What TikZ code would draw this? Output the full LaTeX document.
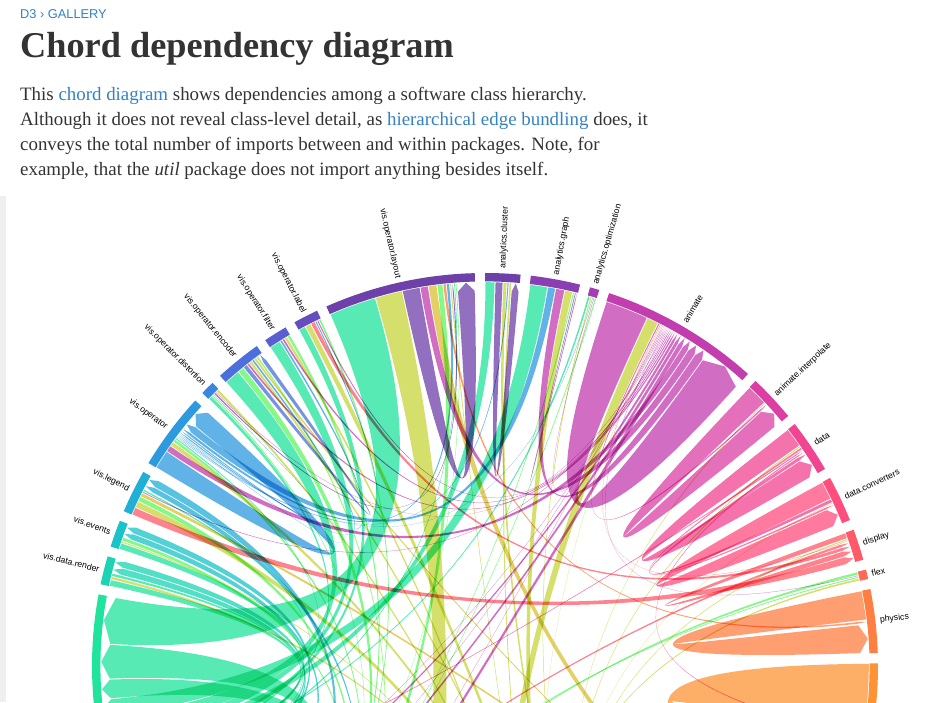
\documentclass[tikz,border=0pt]{standalone}
\usepackage{fontspec}
\setmainfont{Liberation Serif}
\newfontfamily\labfont{Liberation Sans}
\definecolor{txt}{RGB}{51,51,51}
\definecolor{lnk}{RGB}{52,130,196}
\definecolor{stripgray}{RGB}{239,239,239}
% d3.interpolateRainbow
\newcommand\mkcol[2]{%
  \pgfmathsetmacro\mcS{abs(#2-0.5)}%
  \pgfmathsetmacro\mcH{360*#2+20}%
  \pgfmathsetmacro\mcL{0.8-0.9*\mcS}%
  \pgfmathsetmacro\mcA{(1.5-1.5*\mcS)*\mcL*(1-\mcL)}%
  \pgfmathtruncatemacro\mcR{max(0,min(255,round(255*(\mcL+\mcA*(-0.14861*cos(\mcH)+1.78277*sin(\mcH))))))}%
  \pgfmathtruncatemacro\mcG{max(0,min(255,round(255*(\mcL+\mcA*(-0.29227*cos(\mcH)-0.90649*sin(\mcH))))))}%
  \pgfmathtruncatemacro\mcB{max(0,min(255,round(255*(\mcL+\mcA*1.97294*cos(\mcH)))))}%
  \edef\mcTmp{\noexpand\definecolor{#1}{RGB}{\mcR,\mcG,\mcB}}\mcTmp}
\mkcol{cClu}{0}
\mkcol{cGra}{0.034483}
\mkcol{cOpt}{0.068966}
\mkcol{cAni}{0.103448}
\mkcol{cInt}{0.137931}
\mkcol{cDat}{0.172414}
\mkcol{cCon}{0.206897}
\mkcol{cDis}{0.241379}
\mkcol{cFle}{0.275862}
\mkcol{cPhy}{0.310345}
\mkcol{cQue}{0.344828}
\mkcol{cQme}{0.379310}
\mkcol{cSca}{0.413793}
\mkcol{cUti}{0.448276}
\mkcol{cHea}{0.482759}
\mkcol{cMat}{0.517241}
\mkcol{cPal}{0.551724}
\mkcol{cVis}{0.586207}
\mkcol{cAxi}{0.620690}
\mkcol{cCtl}{0.655172}
\mkcol{cVda}{0.689655}
\mkcol{cRen}{0.724138}
\mkcol{cEve}{0.758621}
\mkcol{cLeg}{0.793103}
\mkcol{cOpe}{0.827586}
\mkcol{cDst}{0.862069}
\mkcol{cEnc}{0.896552}
\mkcol{cFil}{0.931034}
\mkcol{cLab}{0.965517}
\mkcol{cLay}{0.999999}
% geometry (pixels): centre, ribbon radius, head length, ring radii, label radius
\def\cx{485}\def\cy{36}\def\rr{383.8}\def\hd{8.4}
\def\rin{384.6}\def\rout{393}\def\rlab{397.5}
% ribbon with arrow head (d3.ribbonArrow)
\newcommand\rib[5]{%
  \pgfmathsetmacro\sa{(#1)+0.075}\pgfmathsetmacro\sb{(#2)-0.075}%
  \pgfmathsetmacro\ta{(#3)+0.075}\pgfmathsetmacro\tb{(#4)-0.075}%
  \pgfmathsetmacro\tm{((#3)+(#4))/2}%
  \fill[ribbon=#5] ({\cx+\rr*sin(\sa)},{\cy+\rr*cos(\sa)})
    arc[start angle={90-(\sa)}, end angle={90-(\sb)}, radius=\rr]
    .. controls ({\cx+\rr/3*sin(\sb)},{\cy+\rr/3*cos(\sb)}) and ({\cx+(\rr-\hd)/3*sin(\ta)},{\cy+(\rr-\hd)/3*cos(\ta)}) ..
    ({\cx+(\rr-\hd)*sin(\ta)},{\cy+(\rr-\hd)*cos(\ta)})
    -- ({\cx+\rr*sin(\tm)},{\cy+\rr*cos(\tm)})
    -- ({\cx+(\rr-\hd)*sin(\tb)},{\cy+(\rr-\hd)*cos(\tb)})
    .. controls ({\cx+(\rr-\hd)/3*sin(\tb)},{\cy+(\rr-\hd)/3*cos(\tb)}) and ({\cx+\rr/3*sin(\sa)},{\cy+\rr/3*cos(\sa)}) ..
    cycle;}
% group arc
\newcommand\grp[3]{%
  \fill[#3] ({\cx+\rout*sin(#1)},{\cy+\rout*cos(#1)})
    arc[start angle={90-(#1)}, end angle={90-(#2)}, radius=\rout]
    -- ({\cx+\rin*sin(#2)},{\cy+\rin*cos(#2)})
    arc[start angle={90-(#2)}, end angle={90-(#1)}, radius=\rin] -- cycle;}
\newcommand\labR[3]{\node[lab,anchor=west,rotate={90-(#2)}] (#1) at ({\cx+\rlab*sin(#2)},{\cy+\rlab*cos(#2)}) {#3};}
\newcommand\labL[3]{\node[lab,anchor=east,rotate={270-(#2)}] (#1) at ({\cx+\rlab*sin(#2)},{\cy+\rlab*cos(#2)}) {#3};}
\tikzset{
  ribbon/.style={fill=#1, fill opacity=0.75, blend mode=multiply},
  lab/.style={font=\labfont\fontsize{8.7}{10}\selectfont, inner sep=0pt, text=black},
  bodytext/.style={anchor=base west, inner sep=0pt, text=txt, font=\fontsize{18.9}{25}\selectfont},
}
\newcommand\lk[1]{\textcolor{lnk}{#1}}
\begin{document}
\begin{tikzpicture}[x=1pt,y=1pt]
\useasboundingbox (0,0) rectangle (945,702);
\fill[white] (0,0) rectangle (945,702);
\fill[stripgray] (0,0) rectangle (6,506);
% header
\node[anchor=base west, inner sep=0pt, text=lnk, font=\labfont\fontsize{12.8}{15}\selectfont] (crumb) at (20,683) {D3 › GALLERY};
\node[anchor=base west, inner sep=0pt, text=txt, font=\bfseries\fontsize{36.3}{40}\selectfont] (title) at (20,644) {Chord dependency diagram};
\node[bodytext] (l1) at (20,601) {This \lk{chord diagram} shows dependencies among a software class hierarchy.};
\node[bodytext] (l2) at (20,576) {Although it does not reveal class-level detail, as \lk{hierarchical edge bundling} does, it};
\node[bodytext] (l3) at (20,551) {conveys the total number of imports between and within packages. Note, for};
\node[bodytext] (l4) at (20,526) {example, that the \textit{util} package does not import anything besides itself.};
\begin{scope}
\clip (6,0) rectangle (945,510);
% ---- groups
\grp{0}{5.2}{cClu}
\grp{6.7}{14.0}{cGra}
\grp{15.5}{16.9}{cOpt}
\grp{18.4}{42.0}{cAni}
\grp{43.5}{50.5}{cInt}
\grp{52.0}{59.9}{cDat}
\grp{61.4}{68.2}{cCon}
\grp{69.7}{74.3}{cDis}
\grp{75.8}{77.2}{cFle}
\grp{78.7}{88.1}{cPhy}
\grp{89.6}{112}{cQue}
\grp{113.5}{121}{cQme}
\grp{122.5}{134}{cSca}
\grp{135.5}{197}{cUti}
\grp{198.5}{201}{cHea}
\grp{202.5}{206}{cMat}
\grp{207.5}{210}{cPal}
\grp{211.5}{219}{cVis}
\grp{220.5}{227}{cAxi}
\grp{228.5}{238}{cCtl}
\grp{239.5}{280.5}{cVda}
\grp{-78.0}{-73.8}{cRen}
\grp{-72.3}{-68.3}{cEve}
\grp{-66.8}{-60.4}{cLeg}
\grp{-58.9}{-47.5}{cOpe}
\grp{-46.0}{-43.9}{cDst}
\grp{-42.4}{-35.5}{cEnc}
\grp{-34.0}{-30.5}{cFil}
\grp{-29.0}{-25.3}{cLab}
\grp{-23.8}{-1.5}{cLay}
% ---- chords: layout
\rib{-23.8}{-16.6}{-86.7}{-79.5}{cVda}
\rib{-16.6}{-12.45}{191}{195.15}{cUti}
\rib{-12.45}{-9.75}{-4.2}{-1.5}{cLay}
\rib{-9.75}{-8.5}{32.75}{34.0}{cAni}
\rib{-8.5}{-7.2}{128}{129.3}{cSca}
\rib{-7.2}{-6.3}{213.3}{214.2}{cVis}
\rib{-6.3}{-5.8}{83.2}{83.6}{cPhy}
\rib{-5.8}{-5.3}{-52.1}{-51.6}{cOpe}
\rib{-5.3}{-5.0}{168.9}{169.2}{cUti}
\rib{-4.7}{-4.45}{-109.3}{-108.8}{cVda}
\rib{-4.45}{-4.2}{218.6}{218.8}{cVis}
% cluster
\rib{0}{1.5}{-103.3}{-101.8}{cVda}
\rib{1.5}{2.7}{4.0}{5.2}{cClu}
\rib{2.7}{3.3}{160.3}{160.9}{cUti}
\rib{3.3}{3.6}{-53.3}{-53.1}{cOpe}
\rib{3.6}{4.0}{169.2}{169.6}{cUti}
% graph
\rib{6.7}{9.4}{-97.7}{-95}{cVda}
\rib{9.4}{10.6}{-51.6}{-50.4}{cOpe}
\rib{10.6}{12.0}{34.0}{35.4}{cAni}
\rib{12.0}{13.2}{165.7}{166.9}{cUti}
\rib{13.2}{13.5}{217.1}{217.4}{cVis}
\rib{13.5}{13.75}{13.75}{14.0}{cGra}
% optimization
\rib{15.5}{15.9}{-107.4}{-107.0}{cVda}
\rib{15.9}{16.2}{160}{160.3}{cUti}
\rib{16.2}{16.4}{-53.5}{-53.3}{cOpe}
\rib{16.4}{16.6}{28.5}{28.7}{cAni}
\rib{16.6}{16.9}{216.8}{217.1}{cVis}
% animate
\rib{18.4}{25.0}{35.4}{42.0}{cAni}
\rib{25.0}{26.8}{178}{179.8}{cUti}
\rib{26.8}{27.1}{46.95}{47.3}{cInt}
\rib{27.1}{27.3}{70.9}{71.1}{cDis}
\rib{27.3}{27.5}{167.2}{167.4}{cUti}
\rib{212.5}{212.7}{27.5}{27.7}{cAni}
\rib{226.8}{227.0}{27.7}{27.9}{cAni}
\rib{236.2}{236.4}{27.9}{28.1}{cAni}
% interpolate
\rib{43.5}{46.7}{47.3}{50.5}{cInt}
\rib{46.7}{46.95}{160.9}{161.15}{cUti}
% data
\rib{52.0}{55.0}{56.9}{59.9}{cDat}
\rib{55.0}{55.3}{161.3}{161.6}{cUti}
\rib{55.3}{55.7}{65.0}{65.4}{cCon}
% converters
\rib{61.4}{64.2}{65.4}{68.2}{cCon}
\rib{64.2}{64.8}{56.3}{56.9}{cDat}
\rib{64.8}{65.0}{161.6}{161.8}{cUti}
% display
\rib{69.7}{70.6}{72.2}{73.1}{cDis}
\rib{70.6}{70.9}{161.8}{162.1}{cUti}
% flex
\rib{75.8}{76.3}{216.3}{216.8}{cVis}
\rib{76.3}{76.5}{28.1}{28.3}{cAni}
\rib{76.5}{76.8}{218.4}{218.6}{cVis}
\rib{76.8}{77.2}{167.5}{167.9}{cUti}
% physics
\rib{78.7}{83.1}{83.7}{88.1}{cPhy}
% query
\rib{89.6}{100.0}{101.6}{112.0}{cQue}
\rib{100.0}{100.3}{56.0}{56.3}{cDat}
\rib{100.3}{101.0}{173}{173.7}{cUti}
% off-screen sources
\rib{229}{234.3}{-92.0}{-86.7}{cVda}
\rib{221}{224}{-95}{-92}{cVda}
\rib{211.5}{212.3}{30.95}{31.75}{cAni}
\rib{224.2}{224.8}{30.35}{30.95}{cAni}
\rib{234.5}{235.0}{29.85}{30.35}{cAni}
\rib{225.0}{225.5}{71.1}{71.6}{cDis}
\rib{245}{245.3}{55.7}{56.0}{cDat}
\rib{212.3}{212.5}{-62.5}{-61.6}{cLeg}
\rib{225.6}{226.8}{-61.6}{-60.4}{cLeg}
\rib{235.1}{236.1}{-70.4}{-69.4}{cEve}
\rib{246}{247.1}{-69.4}{-68.3}{cEve}
\rib{247.5}{248.6}{-76.0}{-74.9}{cRen}
\rib{249}{250.1}{-74.9}{-73.8}{cRen}
% distortion
\rib{-46.0}{-45.4}{-105.0}{-104.4}{cVda}
\rib{-45.4}{-45.1}{215.2}{215.5}{cVis}
\rib{-45.1}{-44.9}{-53.1}{-52.9}{cOpe}
\rib{-44.9}{-44.6}{-5.0}{-4.7}{cLay}
\rib{-44.6}{-44.4}{28.3}{28.5}{cAni}
\rib{-44.4}{-43.9}{167.9}{168.4}{cUti}
% encoder
\rib{-42.4}{-40.0}{-100.1}{-97.7}{cVda}
\rib{-40.0}{-39.0}{214.2}{215.2}{cVis}
\rib{-39.0}{-38.3}{-36.2}{-35.5}{cEnc}
\rib{-38.3}{-37.9}{29.5}{29.85}{cAni}
\rib{-37.9}{-37.4}{163.5}{164.0}{cUti}
\rib{-37.4}{-37.0}{-52.4}{-52.1}{cOpe}
\rib{-37.0}{-36.6}{129.9}{130.3}{cSca}
\rib{-36.6}{-36.2}{208}{208.4}{cPal}
% filter
\rib{-34.0}{-32.3}{-101.8}{-100.1}{cVda}
\rib{-32.3}{-31.9}{-52.7}{-52.4}{cOpe}
\rib{-31.9}{-31.5}{29.2}{29.5}{cAni}
\rib{-31.5}{-31.0}{168.4}{168.9}{cUti}
\rib{-31.0}{-30.5}{217.4}{217.9}{cVis}
% label
\rib{-29.0}{-27.9}{-104.4}{-103.3}{cVda}
\rib{-27.9}{-27.0}{162.6}{163.5}{cUti}
\rib{-27.0}{-26.3}{71.6}{72.2}{cDis}
\rib{-26.3}{-26.0}{-52.9}{-52.7}{cOpe}
\rib{-26.0}{-25.7}{28.7}{28.95}{cAni}
\rib{-25.7}{-25.3}{217.9}{218.3}{cVis}
% operator
\rib{-58.9}{-56.0}{-50.4}{-47.5}{cOpe}
\rib{-56.0}{-55.0}{31.75}{32.75}{cAni}
\rib{-55.0}{-54.3}{164.0}{164.7}{cUti}
\rib{-54.3}{-53.8}{212.8}{213.3}{cVis}
\rib{-53.8}{-53.5}{-107.7}{-107.4}{cVda}
% legend
\rib{-66.8}{-65.6}{73.1}{74.3}{cDis}
\rib{-65.6}{-64.6}{164.7}{165.7}{cUti}
\rib{-64.6}{-63.8}{215.5}{216.3}{cVis}
\rib{-63.8}{-63.2}{129.3}{129.9}{cSca}
\rib{-63.2}{-62.95}{28.95}{29.2}{cAni}
\rib{-62.95}{-62.6}{-108.0}{-107.7}{cVda}
% events
\rib{-72.3}{-71.3}{-107.0}{-106.0}{cVda}
\rib{-71.3}{-71.0}{166.9}{167.2}{cUti}
\rib{-71.0}{-70.4}{218.2}{218.8}{cVis}
% render
\rib{-78.0}{-77.0}{-106.0}{-105.0}{cVda}
\rib{-77.0}{-76.5}{162.1}{162.6}{cUti}
\rib{-76.5}{-76.0}{-108.8}{-108.3}{cVda}
\end{scope}
% ---- labels
\labL{gLay}{-12.65}{vis.operator.layout}
\labL{gLab}{-27.15}{vis.operator.label}
\labL{gFil}{-32.25}{vis.operator.filter}
\labL{gEnc}{-38.95}{vis.operator.encoder}
\labL{gDst}{-44.95}{vis.operator.distortion}
\labL{gOpe}{-53.2}{vis.operator}
\labL{gLeg}{-63.6}{vis.legend}
\labL{gEve}{-70.3}{vis.events}
\labL{gRen}{-75.9}{vis.data.render}
\labR{gClu}{2.6}{analytics.cluster}
\labR{gGra}{10.35}{analytics.graph}
\labR{gOpt}{16.2}{analytics.optimization}
\labR{gAni}{30.2}{animate}
\labR{gInt}{47.0}{animate.interpolate}
\labR{gDat}{55.95}{data}
\labR{gCon}{64.8}{data.converters}
\labR{gDis}{72.0}{display}
\labR{gFle}{76.5}{flex}
\labR{gPhy}{83.4}{physics}
\end{tikzpicture}
\end{document}
